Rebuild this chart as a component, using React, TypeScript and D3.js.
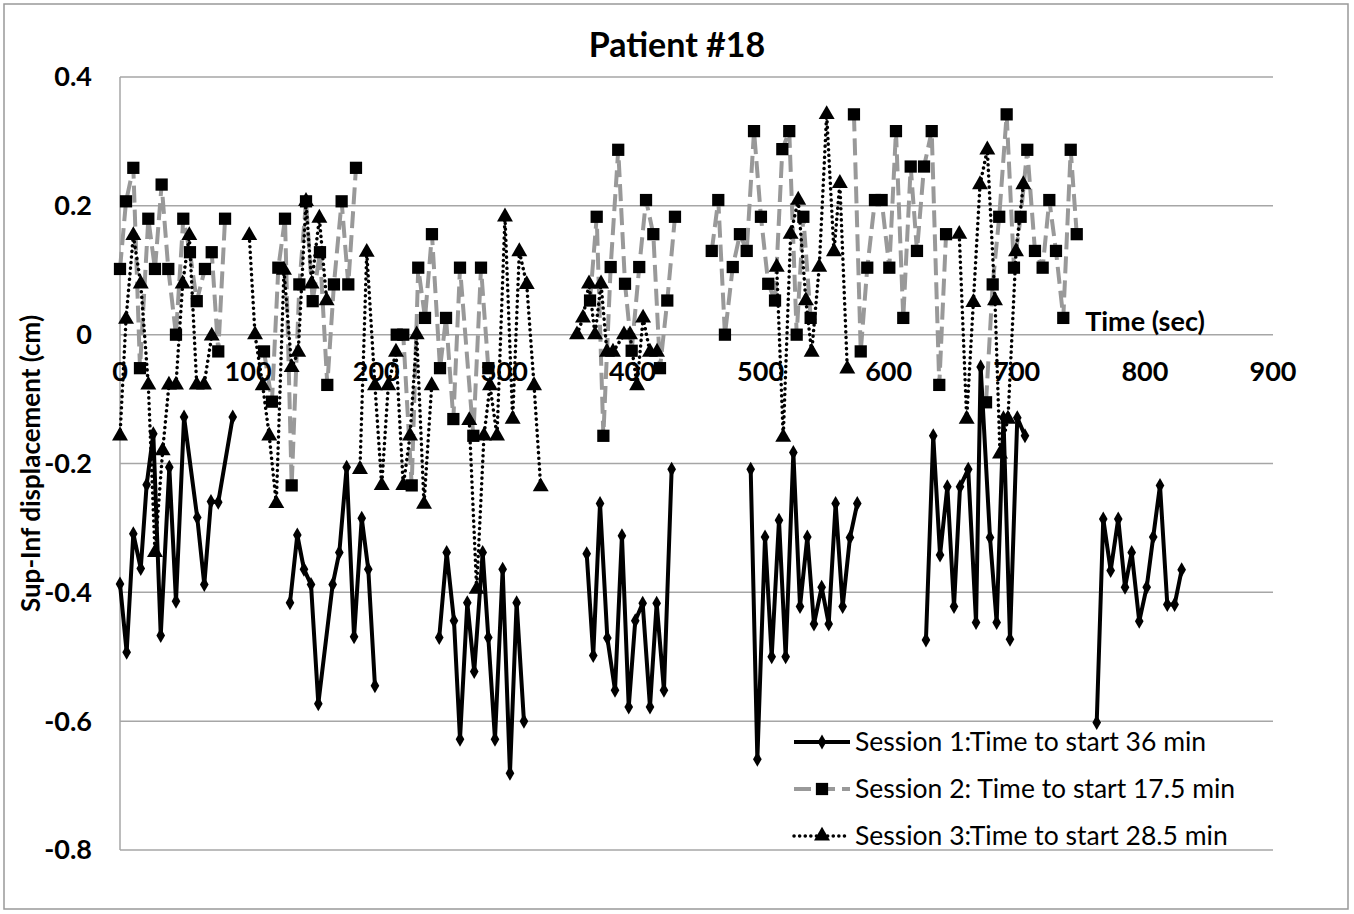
import React from "react";
import * as d3 from "d3";

// ---- data (time in sec, displacement in cm); null marks a gap ----
const s1Time = [0, 5.2, 10.4, 16.2, 20.8, 26.0, 31.8, 38.5, 43.7, 50.0, 60.3, 65.8, 71.0, 76.7, 88.0, null,
  132.7, 138.4, 143.6, 149.1, 154.8, 166.0, 171.2, 176.9, 182.7, 188.7, 193.8, 199.0, null,
  249.2, 255.0, 260.7, 265.4, 271.1, 276.5, 283.1, 287.5, 292.7, 298.7, 304.4, 309.6, 315.3, null,
  364.3, 369.4, 374.7, 380.4, 386.4, 391.8, 397.1, 402.2, 408.0, 413.7, 418.9, 424.6, 430.6, null,
  492.3, 497.5, 503.5, 508.7, 514.4, 519.6, 525.6, 530.8, 536.5, 541.7, 547.7, 553.2, 558.6, 564.1, 569.8, 575.5, null,
  629.1, 634.8, 640.1, 645.8, 651.0, 655.7, 662.1, 668.2, 671.8, 679.1, 684.3, 689.6, 694.7, 700.4, 706.4, null,
  762.4, 767.5, 773.3, 779.2, 784.5, 789.7, 795.6, 801.4, 806.5, 811.8, 817.5, 823.2, 828.7];
const s1Value = [-0.387, -0.493, -0.309, -0.363, -0.233, -0.154, -0.467, -0.206, -0.414, -0.128, -0.284, -0.388, -0.259, -0.260, -0.128, null,
  -0.416, -0.311, -0.364, -0.388, -0.573, -0.388, -0.338, -0.206, -0.469, -0.285, -0.364, -0.545, null,
  -0.470, -0.338, -0.444, -0.628, -0.416, -0.523, -0.338, -0.470, -0.628, -0.364, -0.681, -0.416, -0.600, null,
  -0.340, -0.498, -0.262, -0.471, -0.552, -0.312, -0.578, -0.444, -0.417, -0.578, -0.417, -0.552, -0.209, null,
  -0.209, -0.659, -0.314, -0.500, -0.288, -0.500, -0.183, -0.422, -0.314, -0.449, -0.392, -0.449, -0.262, -0.422, -0.315, -0.262, null,
  -0.474, -0.157, -0.342, -0.236, -0.422, -0.236, -0.209, -0.447, -0.050, -0.315, -0.447, -0.129, -0.473, -0.129, -0.157, null,
  -0.602, -0.286, -0.366, -0.286, -0.392, -0.338, -0.445, -0.392, -0.314, -0.234, -0.419, -0.419, -0.365];

const s2Time = [0, 4.7, 10.4, 15.6, 22.1, 27.3, 32.5, 37.7, 43.7, 49.4, 54.6, 59.9, 66.3, 71.6, 76.7, 82.0, null,
  112.4, 118.6, 123.6, 128.8, 134.0, 140.0, 145.2, 150.4, 156.1, 161.8, 167.0, 173.0, 178.2, 184.2, null,
  216.0, 221.1, 227.7, 232.8, 238.1, 243.5, 249.8, 254.5, 260.2, 265.4, 275.8, 281.8, 287.5, null,
  366.9, 372.1, 377.3, 383.0, 388.9, 394.2, 399.4, 405.3, 410.6, 416.3, 421.5, 427.2, 433.2, null,
  461.9, 467.0, 472.2, 478.3, 483.9, 489.2, 494.9, 500.3, 506.0, 511.3, 517.0, 522.4, 528.2, 533.4, 539.1, null,
  572.9, 578.2, 583.3, 589.3, 594.5, 600.5, 605.7, 611.4, 617.2, 622.1, 627.6, 633.6, 639.5, 644.8, null,
  676.0, 681.2, 686.3, 692.1, 697.8, 703.0, 708.2, 714.2, 720.2, 725.4, 730.6, 736.3, 742.1, 746.8];
const s2Value = [0.102, 0.207, 0.259, -0.052, 0.180, 0.102, 0.233, 0.102, 0.0, 0.180, 0.128, 0.052, 0.102, 0.128, -0.026, 0.180, null,
  -0.026, -0.104, 0.104, 0.180, -0.234, 0.078, 0.207, 0.052, 0.128, -0.078, 0.078, 0.207, 0.078, 0.259, null,
  0.0, 0.0, -0.234, 0.104, 0.026, 0.156, -0.052, 0.026, -0.131, 0.104, -0.157, 0.104, -0.052, null,
  0.053, 0.183, -0.157, 0.105, 0.287, 0.079, -0.025, 0.105, 0.209, 0.156, -0.052, 0.053, 0.183, null,
  0.130, 0.209, 0.0, 0.105, 0.156, 0.130, 0.316, 0.183, 0.079, 0.053, 0.288, 0.316, 0.0, 0.183, 0.026, null,
  0.342, -0.026, 0.104, 0.209, 0.209, 0.104, 0.316, 0.026, 0.261, 0.130, 0.261, 0.316, -0.078, 0.156, null,
  -0.105, 0.078, 0.183, 0.342, 0.104, 0.183, 0.287, 0.130, 0.104, 0.209, 0.130, 0.026, 0.287, 0.156];

const s3Time = [0, 4.7, 10.4, 16.2, 22.1, 27.3, 33.3, 38.2, 43.7, 48.9, 54.1, 59.9, 65.6, 71.6, null,
  100.9, 105.4, 111.4, 116.5, 122.0, 128.0, 134.0, 139.1, 145.2, 149.6, 155.6, 161.3, null,
  187.3, 192.6, 199.0, 204.3, 209.4, 215.4, 221.1, 226.4, 231.6, 237.3, 243.3, null,
  272.6, 278.4, 284.1, 288.8, 294.3, 300.5, 306.5, 311.7, 317.5, 323.2, 328.4, null,
  356.7, 361.4, 366.1, 370.8, 375.5, 380.1, 384.8, 393.4, 398.1, 403.6, 408.3, 413.7, 419.2, null,
  512.6, 517.7, 523.5, 529.4, 535.4, 539.9, 545.8, 551.6, 557.3, 561.9, 567.7, null,
  655.1, 660.9, 666.1, 671.3, 677.0, 683.0, 686.9, 693.1, 699.4, 705.1];
const s3Value = [-0.157, 0.024, 0.154, 0.079, -0.078, -0.338, -0.180, -0.078, -0.078, 0.079, 0.154, -0.078, -0.078, -0.002, null,
  0.154, 0.0, -0.079, -0.157, -0.262, 0.100, -0.051, -0.027, 0.207, 0.079, 0.181, 0.053, null,
  -0.209, 0.128, -0.079, -0.234, -0.079, -0.027, -0.234, -0.157, 0.0, -0.263, -0.079, null,
  -0.133, -0.395, -0.157, -0.079, -0.157, 0.183, -0.131, 0.129, 0.078, -0.079, -0.236, null,
  0.0, 0.026, 0.079, 0.0, 0.079, -0.027, -0.027, 0.0, 0.0, -0.079, 0.026, -0.027, -0.027, null,
  0.105, -0.159, 0.156, 0.209, 0.053, -0.027, 0.105, 0.342, 0.129, 0.235, -0.053, null,
  0.156, -0.131, 0.050, 0.233, 0.287, 0.053, -0.185, -0.131, 0.129, 0.233];

const xTicks = [0, 100, 200, 300, 400, 500, 600, 700, 800, 900];
const yTicks = [0.4, 0.2, 0, -0.2, -0.4, -0.6, -0.8];
const seriesNames = [
  "Session 1:Time to start 36 min",
  "Session 2: Time to start 17.5 min",
  "Session 3:Time to start 28.5 min",
];
const chartTitle = "Patient #18";
const xTitle = "Time (sec)";
const yTitle = "Sup-Inf displacement (cm)";

const W = 1354, H = 914;
const FONT = "Lato, 'Open Sans', sans-serif";

type Pt = { t: number | null; v: number | null };
const zip = (ts: (number | null)[], vs: (number | null)[]): Pt[] => ts.map((t, i) => ({ t, v: vs[i] }));

export default function App() {
  const x = d3.scaleLinear().domain([0, 900]).range([120, 1273]);
  const y = d3.scaleLinear().domain([-0.8, 0.4]).range([850, 77]);
  const line = d3.line<Pt>()
    .defined((d) => d.t !== null && d.v !== null)
    .x((d) => x(d.t as number))
    .y((d) => y(d.v as number));

  const s1 = zip(s1Time, s1Value);
  const s2 = zip(s2Time, s2Value);
  const s3 = zip(s3Time, s3Value);
  const valid = (a: Pt[]) => a.filter((d) => d.t !== null && d.v !== null);

  const diamond = d3.symbol().type(d3.symbolDiamond).size(65)() as string;
  const square = d3.symbol().type(d3.symbolSquare).size(150)() as string;
  const triangle = d3.symbol().type(d3.symbolTriangle).size(110)() as string;

  const styles = [
    { stroke: "#000", width: 4, dash: undefined as string | undefined, cap: "butt", marker: diamond, mfill: "#000" },
    { stroke: "#999", width: 4, dash: "17 7", cap: "butt", marker: square, mfill: "#000" },
    { stroke: "#000", width: 3.5, dash: "0.1 5.5", cap: "round", marker: triangle, mfill: "#000" },
  ];
  const data = [s1, s2, s3];

  return (
    <svg width={W} height={H} style={{ position: "absolute", left: 0, top: 0, background: "#fff" }}>
      <rect x={0} y={0} width={W} height={H} fill="#fff" />
      <rect x={4} y={4} width={1344} height={905} fill="none" stroke="#999" strokeWidth={1.5} />
      {/* gridlines */}
      {yTicks.map((t) => (
        <line key={t} x1={120} x2={1273} y1={y(t)} y2={y(t)} stroke="#a6a6a6" strokeWidth={1.5} />
      ))}
      <line x1={120} x2={120} y1={y(0.4)} y2={y(-0.8)} stroke="#a6a6a6" strokeWidth={1.5} />
      {/* y tick labels */}
      {yTicks.map((t) => (
        <text key={t} x={92} y={y(t)} dy="0.35em" textAnchor="end" fontFamily={FONT} fontWeight="bold" fontSize={27} fill="#000">
          {t === 0 ? "0" : d3.format(".1f")(t).replace("−", "-")}
        </text>
      ))}
      {/* series */}
      {data.map((s, i) => (
        <g key={i}>
          <path d={line(s) || ""} fill="none" stroke={styles[i].stroke} strokeWidth={styles[i].width}
            strokeDasharray={styles[i].dash} strokeLinecap={styles[i].cap as any} strokeLinejoin="round" />
          {valid(s).map((d, j) => (
            <path key={j} d={styles[i].marker} transform={`translate(${x(d.t as number)},${y(d.v as number)})`} fill={styles[i].mfill} />
          ))}
        </g>
      ))}
      {/* x tick labels */}
      {xTicks.map((t) => (
        <text key={t} x={x(t)} y={372} dy="0.35em" textAnchor="middle" fontFamily={FONT} fontWeight="bold" fontSize={27} fill="#000">
          {t}
        </text>
      ))}
      <text x={1145} y={322} dy="0.35em" textAnchor="middle" fontFamily={FONT} fontWeight="bold" fontSize={27} fill="#000">{xTitle}</text>
      <text x={677} y={45} dy="0.35em" textAnchor="middle" fontFamily={FONT} fontWeight="bold" fontSize={34} fill="#000">{chartTitle}</text>
      <text transform={`translate(31,${y(-0.2)}) rotate(-90)`} dy="0.35em" textAnchor="middle" fontFamily={FONT} fontWeight="bold" fontSize={26} fill="#000">{yTitle}</text>
      {/* legend */}
      {seriesNames.map((n, i) => {
        const ly = 742 + i * 47;
        return (
          <g key={n}>
            <line x1={794} x2={850} y1={ly} y2={ly} stroke={styles[i].stroke} strokeWidth={styles[i].width}
              strokeDasharray={styles[i].dash} strokeLinecap={styles[i].cap as any} />
            <path d={styles[i].marker} transform={`translate(822,${ly})`} fill={styles[i].mfill} />
            <text x={855} y={ly} dy="0.35em" fontFamily={FONT} fontSize={26.5} fill="#000">{n}</text>
          </g>
        );
      })}
    </svg>
  );
}
